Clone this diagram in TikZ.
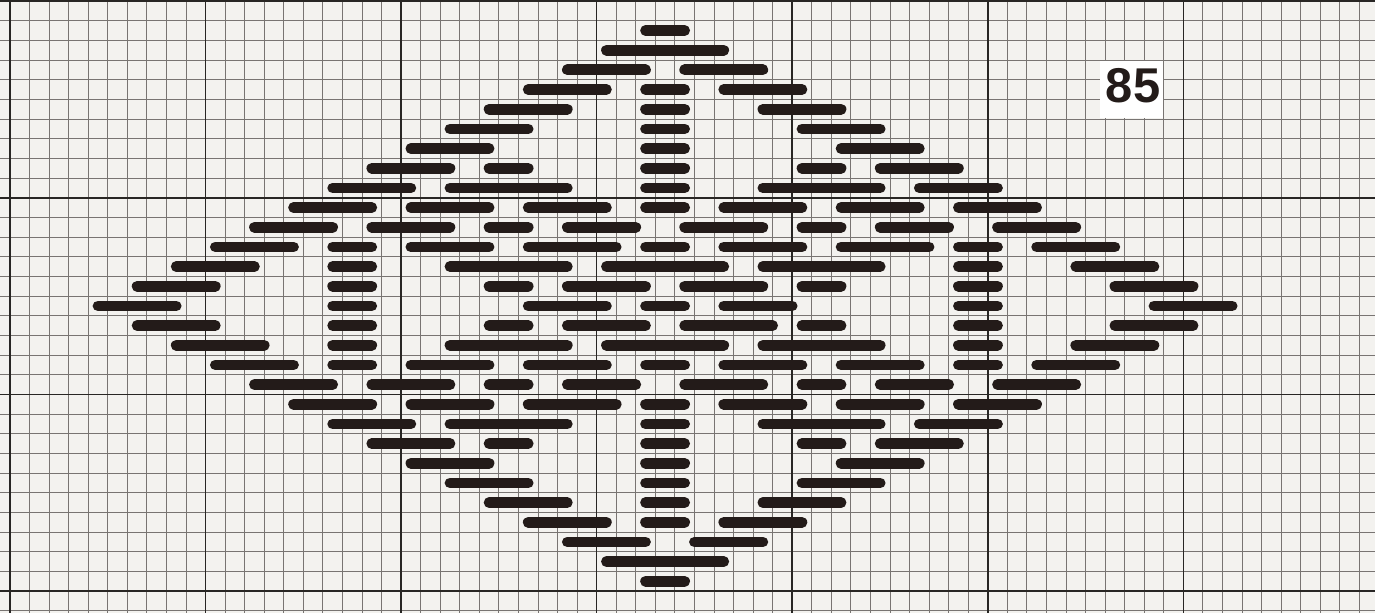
\documentclass[tikz,border=0pt]{standalone}
\usepackage{fontspec}
\newfontfamily\chartfont{Liberation Sans}
\usepackage{tikz}
\definecolor{paper}{RGB}{243,242,239}
\definecolor{gridgray}{RGB}{120,116,114}
\definecolor{gridmajor}{RGB}{40,38,36}
\definecolor{ink}{RGB}{35,27,25}

\begin{document}
\begin{tikzpicture}[x=0.3911cm, y=0.3934cm,
      stitch/.style={draw=ink, line width=6.1pt, line cap=round},
      minor/.style={draw=gridgray, line width=0.45pt},
      major/.style={draw=gridmajor, line width=0.9pt},
      tag/.style={fill=white, minimum width=1.25cm, minimum height=1.14cm, inner sep=0pt},
      num/.style={font=\chartfont\bfseries\fontsize{27.8}{30}\selectfont, text=ink, inner sep=0pt}
    ]
    \useasboundingbox[fill=paper] (-0.5114,0.0508) rectangle (70.315,-31.114);
    \fill[white] (69.8,0.0508) rectangle (70.315,-31.114);
    \foreach \k in {0,...,69} \draw[minor] (\k,0.0508) -- (\k,-31.114);
    \foreach \j in {0,...,31} \draw[minor] (-0.5114,-\j) -- (69.8,-\j);
    \foreach \k in {0,10,...,60} \draw[major] (\k,0.0508) -- (\k,-31.114);
    \foreach \j in {0,10,20,30} \draw[major] (-0.5114,-\j) -- (69.8,-\j);
    \node[tag] (box) at (57.35,-4.5) {};
    \node[num] (lbl) at (57.43,-4.3) {85};
    \foreach \r/\a/\b in {
      1/32/34, 2/30/36, 3/28/32, 3/34/38,
      4/26/30, 4/32/34, 4/36/40,
      5/24/28, 5/32/34, 5/38/42,
      6/22/26, 6/32/34, 6/40/44,
      7/20/24, 7/32/34, 7/42/46,
      8/18/22, 8/24/26, 8/32/34, 8/40/42, 8/44/48,
      9/16/20, 9/22/28, 9/32/34, 9/38/44, 9/46/50,
      10/14/18, 10/20/24, 10/26/30, 10/32/34, 10/36/40, 10/42/46, 10/48/52,
      11/12/16, 11/18/22, 11/24/26, 11/28/31.5, 11/34/38, 11/40/42, 11/44/47.5, 11/50/54,
      12/10/14, 12/16/18, 12/20/24, 12/26/30.5, 12/32/34, 12/36/40, 12/42/46.5, 12/48/50, 12/52/56,
      13/8/12, 13/16/18, 13/22/28, 13/30/36, 13/38/44, 13/48/50, 13/54/58,
      14/6/10, 14/16/18, 14/24/26, 14/28/32, 14/34/38, 14/40/42, 14/48/50, 14/56/60,
      15/4/8, 15/16/18, 15/26/30, 15/32/34, 15/36/39.5, 15/48/50, 15/58/62,
      16/6/10, 16/16/18, 16/24/26, 16/28/32, 16/34/38.5, 16/40/42, 16/48/50, 16/56/60,
      17/8/12.5, 17/16/18, 17/22/28, 17/30/36, 17/38/44, 17/48/50, 17/54/58,
      18/10/14, 18/16/18, 18/20/24, 18/26/30, 18/32/34, 18/36/40, 18/42/46, 18/48/50, 18/52/56,
      19/12/16, 19/18/22, 19/24/26, 19/28/31.5, 19/34/38, 19/40/42, 19/44/47.5, 19/50/54,
      20/14/18, 20/20/24, 20/26/30.5, 20/32/34, 20/36/40, 20/42/46, 20/48/52,
      21/16/20, 21/22/28, 21/32/34, 21/38/44, 21/46/50,
      22/18/22, 22/24/26, 22/32/34, 22/40/42, 22/44/48,
      23/20/24, 23/32/34, 23/42/46,
      24/22/26, 24/32/34, 24/40/44,
      25/24/28, 25/32/34, 25/38/42,
      26/26/30, 26/32/34, 26/36/40,
      27/28/32, 27/34.5/38, 28/30/36, 29/32/34}
      \draw[stitch] (\a+0.5,-\r-0.5) -- (\b+0.5,-\r-0.5);
  \end{tikzpicture}
\end{document}
